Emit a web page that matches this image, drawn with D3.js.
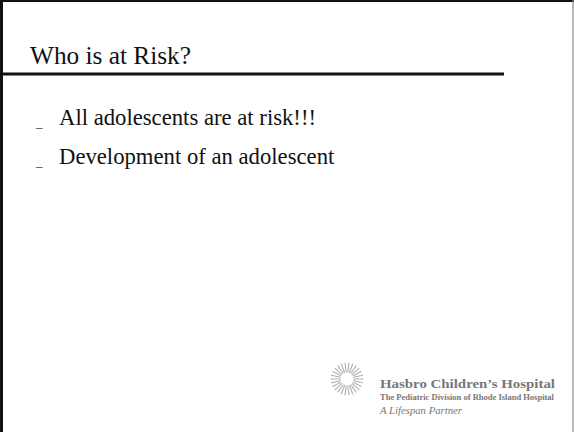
<!DOCTYPE html>
<html>
<head>
<meta charset="utf-8">
<script src="https://cdn.jsdelivr.net/npm/d3@7"></script>
<style>
  html, body { margin: 0; padding: 0; background: #fff; }
  svg { display: block; }
</style>
</head>
<body>
<script>
const title = "Who is at Risk?";
const bullets = ["All adolescents are at risk!!!", "Development of an adolescent"];
const logoLines = ["Hasbro Children\u2019s Hospital", "The Pediatric Division of Rhode Island Hospital", "A Lifespan Partner"];
const rayCount = 26;

const W = 574, H = 432;
const svg = d3.select("body").append("svg").attr("width", W).attr("height", H);
svg.append("rect").attr("width", W).attr("height", H).attr("fill", "#fff");

// frame
svg.append("line").attr("x1", 0).attr("x2", W).attr("y1", 1).attr("y2", 1).attr("stroke", "#111").attr("stroke-width", 2);
svg.append("line").attr("x1", 1.5).attr("x2", 1.5).attr("y1", 0).attr("y2", H).attr("stroke", "#111").attr("stroke-width", 3);
svg.append("line").attr("x1", 573).attr("x2", 573).attr("y1", 0).attr("y2", H).attr("stroke", "#888").attr("stroke-width", 1.2);

// title
svg.append("text").attr("x", 30).attr("y", 64)
  .attr("font-family", "'Liberation Serif', 'Times New Roman', serif")
  .attr("font-size", 25.3).attr("fill", "#111").text(title);
svg.append("line").attr("x1", 0).attr("x2", 504).attr("y1", 74).attr("y2", 74).attr("stroke", "#111").attr("stroke-width", 3);

// bullets
const y = d3.scalePoint().domain(bullets).range([125, 164]);
const g = svg.selectAll("g.bullet").data(bullets).join("g").attr("class", "bullet");
g.append("text").attr("x", 36).attr("y", d => y(d) + 2)
  .attr("font-family", "'Liberation Serif', serif").attr("font-size", 13).attr("fill", "#222").text("_");
g.append("text").attr("x", 59).attr("y", d => y(d))
  .attr("font-family", "'Liberation Serif', 'Times New Roman', serif")
  .attr("font-size", 22.7).attr("fill", "#111").text(d => d);

// logo sun
const cx = 347, cy = 379;
const ang = d3.scaleLinear().domain([0, rayCount]).range([0, 2 * Math.PI]);
svg.append("g").selectAll("line").data(d3.range(rayCount)).join("line")
  .attr("x1", d => cx + 7 * Math.cos(ang(d)))
  .attr("y1", d => cy + 7 * Math.sin(ang(d)))
  .attr("x2", d => cx + 16 * Math.cos(ang(d)))
  .attr("y2", d => cy + 16 * Math.sin(ang(d)))
  .attr("stroke", "#b0b0b0").attr("stroke-width", 1.1).attr("stroke-linecap", "round");

// logo text
const logoY = [388, 400, 414];
const logoSize = [13, 7.6, 9.5];
const logoW = [175, 174, 82];
svg.selectAll("text.logo").data(logoLines).join("text").attr("class", "logo")
  .attr("x", 380).attr("y", (d, i) => logoY[i])
  .attr("font-family", "'Liberation Serif', 'DejaVu Serif', serif")
  .attr("font-weight", (d, i) => i < 2 ? "bold" : "normal")
  .attr("font-style", (d, i) => i === 2 ? "italic" : "normal")
  .attr("font-size", (d, i) => logoSize[i])
  .attr("textLength", (d, i) => logoW[i])
  .attr("lengthAdjust", "spacingAndGlyphs")
  .attr("fill", "#777").text(d => d);
</script>
</body>
</html>
